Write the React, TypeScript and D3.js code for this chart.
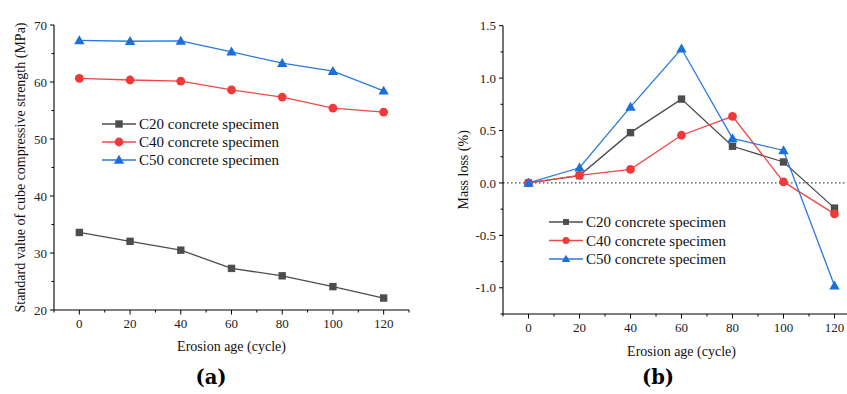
import React from "react";
import * as d3 from "d3";

const ages = [0, 20, 40, 60, 80, 100, 120];
const seriesNames = ["C20 concrete specimen", "C40 concrete specimen", "C50 concrete specimen"];
const strengthC20 = [33.6, 32.05, 30.5, 27.3, 26.0, 24.1, 22.1];
const strengthC40 = [60.65, 60.35, 60.15, 58.6, 57.35, 55.4, 54.7];
const strengthC50 = [67.3, 67.15, 67.2, 65.3, 63.3, 61.9, 58.45];
const lossC20 = [0.0, 0.07, 0.48, 0.8, 0.35, 0.2, -0.24];
const lossC40 = [0.0, 0.073, 0.13, 0.455, 0.635, 0.01, -0.295];
const lossC50 = [0.0, 0.145, 0.725, 1.28, 0.425, 0.31, -0.98];
const strengthTicks = [20, 30, 40, 50, 60, 70];
const lossTicks = [-1.0, -0.5, 0.0, 0.5, 1.0, 1.5];
const ageTicks = [0, 20, 40, 60, 80, 100, 120];

const colors = ["#4d4d4d", "#f03a3a", "#1b6fdc"];
const lineColors = ["#4d4d4d", "#f04848", "#2a78e0"];
const FONT = "'Liberation Serif', 'Times New Roman', serif";

function Marker({ kind, x, y, color, scale = 1 }: { kind: number; x: number; y: number; color: string; scale?: number }) {
  if (kind === 0) {
    const h = 3.7 * scale;
    return <rect x={x - h} y={y - h} width={2 * h} height={2 * h} fill={color} />;
  }
  if (kind === 1) return <circle cx={x} cy={y} r={4.4 * scale} fill={color} />;
  const s = 5.2 * scale;
  return <path d={`M${x},${y - s}L${x + s},${y + s * 0.72}L${x - s},${y + s * 0.72}Z`} fill={color} />;
}

function Panel({
  x0, x1, yTop, yBot, yDomain, yTicks, yMinor, data, fmt, yLabel, yLabelX, legendX, legendY, legendStep, legendMarkerScale, zeroLine, letter, letterX, xLabelY,
}: any) {
  const x = d3.scaleLinear().domain([-10, 130]).range([x0, x1]);
  const y = d3.scaleLinear().domain(yDomain).range([yBot, yTop]);
  const line = d3.line<number>().x((_, i) => x(ages[i])).y((d) => y(d));
  const minorX = d3.range(-10, 131, 20);
  const axisEnd = Math.min(x1, 847);
  return (
    <g>
      {zeroLine && (
        <line x1={x0} x2={847} y1={y(0)} y2={y(0)} stroke="#444" strokeWidth={1.2} strokeDasharray="1.5,2.5" />
      )}
      <line x1={x0} x2={x0} y1={yTop} y2={yBot} stroke="#000" strokeWidth={1.1} />
      <line x1={x0} x2={axisEnd} y1={yBot} y2={yBot} stroke="#000" strokeWidth={1.1} />
      {yTicks.map((t: number) => (
        <g key={"yt" + t}>
          <line x1={x0 - 4} x2={x0} y1={y(t)} y2={y(t)} stroke="#000" />
          <text x={x0 - 7} y={y(t)} dy="0.35em" textAnchor="end" fontSize={13} fill="#222" fontFamily={FONT}>
            {fmt(t)}
          </text>
        </g>
      ))}
      {yMinor.map((t: number) => (
        <line key={"ym" + t} x1={x0 - 2.5} x2={x0} y1={y(t)} y2={y(t)} stroke="#000" />
      ))}
      {ageTicks.map((t) => (
        <g key={"xt" + t}>
          <line x1={x(t)} x2={x(t)} y1={yBot} y2={yBot + 4.5} stroke="#000" />
          <text x={x(t)} y={yBot + 18} textAnchor="middle" fontSize={13} fill="#222" fontFamily={FONT}>
            {t}
          </text>
        </g>
      ))}
      {minorX.map((t) => (
        <line key={"xm" + t} x1={x(t)} x2={x(t)} y1={yBot} y2={yBot + 2.5} stroke="#000" />
      ))}
      {data.map((s: number[], k: number) => (
        <g key={"s" + k}>
          <path d={line(s) || ""} fill="none" stroke={lineColors[k]} strokeWidth={1.3} />
          {s.map((v, i) => (
            <Marker key={i} kind={k} x={x(ages[i])} y={y(v)} color={colors[k]} />
          ))}
        </g>
      ))}
      {seriesNames.map((n, k) => (
        <g key={"l" + k}>
          <line x1={legendX} x2={legendX + 34} y1={legendY + k * legendStep} y2={legendY + k * legendStep} stroke={lineColors[k]} strokeWidth={1.3} />
          <Marker kind={k} x={legendX + 17} y={legendY + k * legendStep} color={colors[k]} scale={legendMarkerScale} />
          <text x={legendX + 37} y={legendY + k * legendStep} dy="0.35em" fontSize={15} fill="#111" fontFamily={FONT}>
            {n}
          </text>
        </g>
      ))}
      <text
        transform={`translate(${yLabelX},${(yTop + yBot) / 2}) rotate(-90)`}
        textAnchor="middle"
        dy="0.35em"
        fontSize={14}
        fill="#111"
        fontFamily={FONT}
      >
        {yLabel}
      </text>
      <text x={(x0 + Math.min(x1, 860)) / 2} y={xLabelY} textAnchor="middle" fontSize={14} fill="#111" fontFamily={FONT}>
        Erosion age (cycle)
      </text>
      <text x={letterX} y={384} textAnchor="middle" fontSize={19.5} fontWeight="bold" fill="#000" fontFamily="'DejaVu Serif', serif">
        ({letter})
      </text>
    </g>
  );
}

export default function App() {
  return (
    <div style={{ position: "absolute", left: 0, top: 0 }}>
      <svg width={847} height={394} style={{ display: "block", background: "#fff" }}>
        <Panel
          x0={54}
          x1={409}
          yTop={25}
          yBot={310}
          yDomain={[20, 70]}
          yTicks={strengthTicks}
          yMinor={[25, 35, 45, 55, 65]}
          data={[strengthC20, strengthC40, strengthC50]}
          fmt={(t: number) => String(t)}
          yLabel="Standard value of cube compressive strength (MPa)"
          yLabelX={20}
          legendX={102}
          legendY={124}
          legendStep={18}
          legendMarkerScale={1}
          zeroLine={false}
          letter="a"
          letterX={211}
          xLabelY={351}
        />
        <Panel
          x0={503}
          x1={860}
          yTop={25.7}
          yBot={314}
          yDomain={[-1.25, 1.5]}
          yTicks={lossTicks}
          yMinor={[-1.25, -0.75, -0.25, 0.25, 0.75, 1.25]}
          data={[lossC20, lossC40, lossC50]}
          fmt={(t: number) => d3.format(".1f")(t).replace("−", "-")}
          yLabel="Mass loss (%)"
          yLabelX={463}
          legendX={549}
          legendY={222}
          legendStep={18.5}
          legendMarkerScale={0.8}
          zeroLine={true}
          letter="b"
          letterX={658}
          xLabelY={356}
        />
      </svg>
    </div>
  );
}
